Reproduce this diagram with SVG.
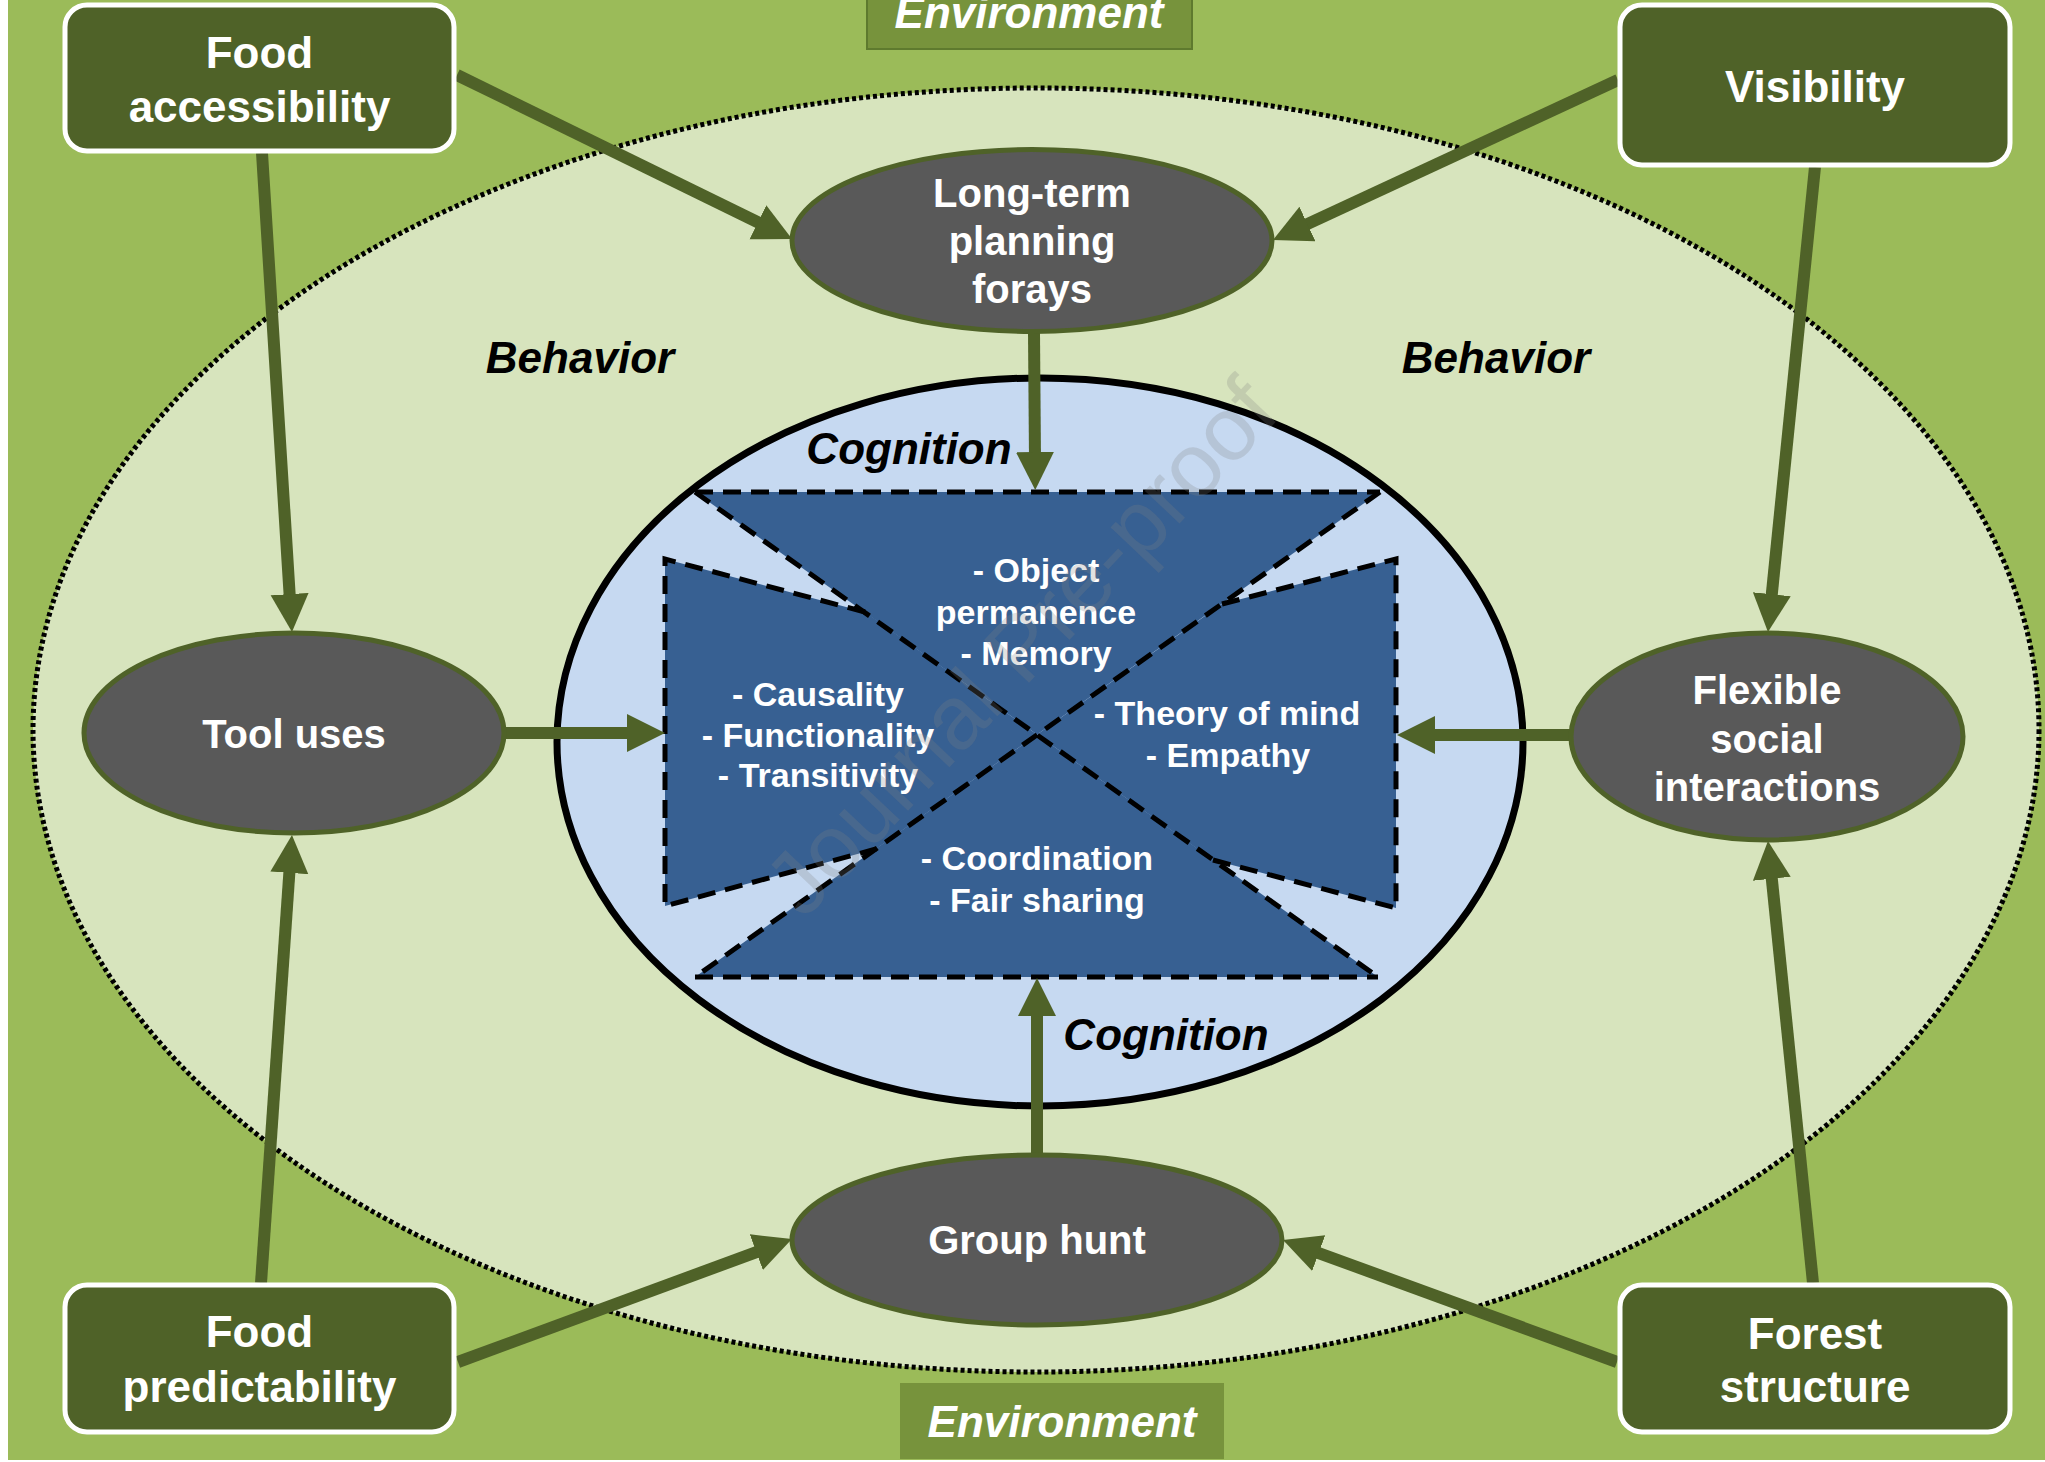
<svg xmlns="http://www.w3.org/2000/svg" width="2045" height="1462" viewBox="0 0 2045 1462">
<defs>
<style>
.box{fill:#4F6228;stroke:#FFFFFF;stroke-width:5}
.oval{fill:#595959;stroke:#4F6228;stroke-width:5}
.nt{font-family:"Liberation Sans",Arial,sans-serif;font-weight:bold;fill:#FFFFFF;text-anchor:middle}
.big{font-size:44px}
.mid{font-size:40px}
.sm{font-size:34px}
.lab{font-family:"Liberation Sans",Arial,sans-serif;font-weight:bold;font-style:italic;font-size:44px;text-anchor:middle}
.dash{fill:none;stroke:#000000;stroke-width:5;stroke-dasharray:18 10}
.con{stroke:#4F6228;stroke-width:12;fill:none;marker-end:url(#ah)}
</style>
<marker id="ah" markerUnits="userSpaceOnUse" markerWidth="40" markerHeight="40" refX="8" refY="19" orient="auto" viewBox="0 0 40 40">
<path d="M0,0 L38,19 L0,38 Z" fill="#4F6228"/>
</marker>
</defs>
<rect x="0" y="0" width="2045" height="1462" fill="#FFFFFF"/>
<rect x="8" y="0" width="2037" height="1460" fill="#9BBB59"/>

<g id="environment-top">
<rect x="867" y="-5" width="325" height="54" fill="#77933C" stroke="#5E7A2E" stroke-width="2"/>
<text class="lab" x="1029" y="28" fill="#FFFFFF">Environment</text>
</g>
<g id="environment-bottom">
<rect x="900" y="1383" width="324" height="76" fill="#77933C"/>
<text class="lab" x="1062" y="1437" fill="#FFFFFF">Environment</text>
</g>

<g id="behavior-zone">
<ellipse cx="1036" cy="730" rx="1003" ry="642" fill="#D7E4BD" stroke="#000000" stroke-width="5" stroke-dasharray="4 3"/>
<text class="lab" x="580" y="373" fill="#000000">Behavior</text>
<text class="lab" x="1496" y="373" fill="#000000">Behavior</text>
</g>

<g id="cognition">
<ellipse cx="1040" cy="742" rx="483" ry="364" fill="#C6D9F1" stroke="#000000" stroke-width="7"/>
<polygon points="695,492 1380,492 1037,734.5" fill="#376092"/>
<polygon points="695,977 1378,977 1037,734.5" fill="#376092"/>
<polygon points="665,559 865,612 1037,734.5 876,849 665,906" fill="#376092"/>
<polygon points="1396,559 1222,604 1037,734.5 1213,860 1396,908" fill="#376092"/>
<line class="dash" x1="695" y1="492" x2="1380" y2="492"/>
<line class="dash" x1="695" y1="977" x2="1378" y2="977"/>
<line class="dash" x1="695" y1="492" x2="1378" y2="977"/>
<line class="dash" x1="1380" y1="492" x2="695" y2="977"/>
<polyline class="dash" points="865,612 665,559 665,906 876,849"/>
<polyline class="dash" points="1222,604 1396,559 1396,908 1213,860"/>
<text class="lab" x="909" y="464" fill="#000000">Cognition</text>
<text class="lab" x="1166" y="1050" fill="#000000">Cognition</text>
<text class="nt sm" x="1036" y="582">- Object</text>
<text class="nt sm" x="1036" y="624">permanence</text>
<text class="nt sm" x="1036" y="665">- Memory</text>
<text class="nt sm" x="818" y="706">- Causality</text>
<text class="nt sm" x="818" y="747">- Functionality</text>
<text class="nt sm" x="818" y="787">- Transitivity</text>
<text class="nt sm" x="1227" y="725">- Theory of mind</text>
<text class="nt sm" x="1228" y="767">- Empathy</text>
<text class="nt sm" x="1037" y="870">- Coordination</text>
<text class="nt sm" x="1037" y="912">- Fair sharing</text>
<text x="0" y="0" transform="translate(1043,668) rotate(-46.6)" font-family="Liberation Sans,Arial,sans-serif" font-size="90" fill="#808080" fill-opacity="0.24" text-anchor="middle">Journal Pre-proof</text>
</g>

<g id="connectors">
<line class="con" x1="457" y1="75" x2="765.1" y2="225.8"/>
<line class="con" x1="1618" y1="80" x2="1300.2" y2="227.4"/>
<line class="con" x1="262" y1="153" x2="290.1" y2="602.1"/>
<line class="con" x1="261" y1="1283" x2="289.9" y2="864.9"/>
<line class="con" x1="1815" y1="167" x2="1771" y2="602.2"/>
<line class="con" x1="1813" y1="1283" x2="1771" y2="870.8"/>
<line class="con" x1="458" y1="1362" x2="763.8" y2="1249.4"/>
<line class="con" x1="1617" y1="1362" x2="1311.2" y2="1250.3"/>
<line class="con" x1="1034" y1="333" x2="1035" y2="460"/>
<line class="con" x1="1037" y1="1155" x2="1037" y2="1008"/>
<line class="con" x1="504" y1="733" x2="635" y2="733"/>
<line class="con" x1="1571" y1="735" x2="1427" y2="735"/>
</g>

<g id="food-accessibility">
<rect class="box" x="65" y="5" width="389" height="146" rx="22"/>
<text class="nt big" x="259.5" y="68">Food</text>
<text class="nt big" x="259.5" y="122">accessibility</text>
</g>
<g id="visibility">
<rect class="box" x="1620" y="5" width="390" height="160" rx="22"/>
<text class="nt big" x="1815" y="102">Visibility</text>
</g>
<g id="food-predictability">
<rect class="box" x="65" y="1285" width="389" height="147" rx="22"/>
<text class="nt big" x="259.5" y="1347">Food</text>
<text class="nt big" x="259.5" y="1402">predictability</text>
</g>
<g id="forest-structure">
<rect class="box" x="1620" y="1285" width="390" height="147" rx="22"/>
<text class="nt big" x="1815" y="1349">Forest</text>
<text class="nt big" x="1815" y="1402">structure</text>
</g>

<g id="long-term-planning">
<ellipse class="oval" cx="1032" cy="240.5" rx="240" ry="91"/>
<text class="nt mid" x="1032" y="207">Long-term</text>
<text class="nt mid" x="1032" y="255">planning</text>
<text class="nt mid" x="1032" y="303">forays</text>
</g>
<g id="tool-uses">
<ellipse class="oval" cx="294" cy="733" rx="210" ry="100"/>
<text class="nt mid" x="294" y="748">Tool uses</text>
</g>
<g id="flexible-social">
<ellipse class="oval" cx="1767" cy="736.5" rx="196" ry="103.5"/>
<text class="nt mid" x="1767" y="704">Flexible</text>
<text class="nt mid" x="1767" y="753">social</text>
<text class="nt mid" x="1767" y="801">interactions</text>
</g>
<g id="group-hunt">
<ellipse class="oval" cx="1037" cy="1240" rx="245" ry="85"/>
<text class="nt mid" x="1037" y="1254">Group hunt</text>
</g>
</svg>
